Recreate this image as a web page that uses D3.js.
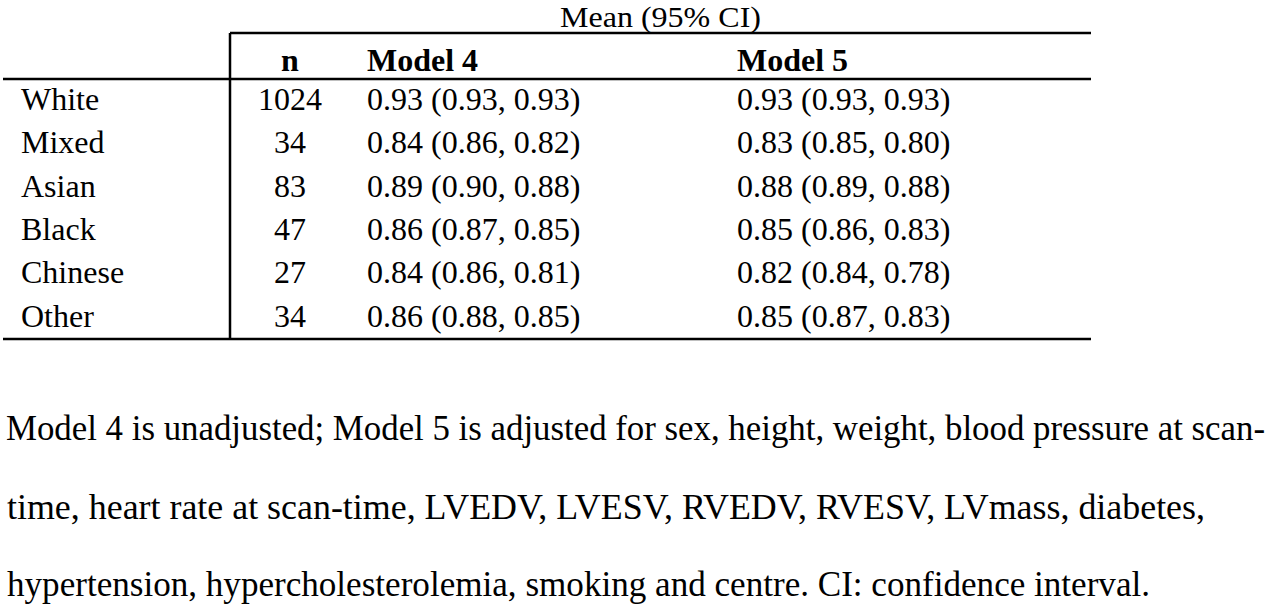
<!DOCTYPE html>
<html><head><meta charset="utf-8">
<script src="https://cdn.jsdelivr.net/npm/d3@7"></script>
<style>html,body{margin:0;padding:0;background:#fff;}svg{display:block;}</style>
</head><body>
<svg id="c" width="1280" height="611"></svg>
<script>
const groups = ["White","Mixed","Asian","Black","Chinese","Other"];
const nValues = [1024,34,83,47,27,34];
const model4 = ["0.93 (0.93, 0.93)","0.84 (0.86, 0.82)","0.89 (0.90, 0.88)","0.86 (0.87, 0.85)","0.84 (0.86, 0.81)","0.86 (0.88, 0.85)"];
const model5 = ["0.93 (0.93, 0.93)","0.83 (0.85, 0.80)","0.88 (0.89, 0.88)","0.85 (0.86, 0.83)","0.82 (0.84, 0.78)","0.85 (0.87, 0.83)"];
const headers = ["n","Model 4","Model 5"];
const spanner = "Mean (95% CI)";
const footnote = [
 "Model 4 is unadjusted; Model 5 is adjusted for sex, height, weight, blood pressure at scan-",
 "time, heart rate at scan-time, LVEDV, LVESV, RVEDV, RVESV, LVmass, diabetes,",
 "hypertension, hypercholesterolemia, smoking and centre. CI: confidence interval."
];

const svg = d3.select("#c");
const font = "'Liberation Serif','Times New Roman',serif";
const fs = 32;

const xLeft = 3, xV = 230, xRight = 1091;
const yTop = 33, yHead = 79, yBottom = 339;
const xN = 290, xM4 = 367, xM5 = 737;

// row bands between header rule and bottom rule
const y = d3.scaleBand().domain(groups).range([yHead, yBottom]);
const rowBase = g => y(g) + 31;

const lines = [
  [xV, yTop, xRight, yTop],
  [xLeft, yHead, xRight, yHead],
  [xLeft, yBottom, xRight, yBottom],
  [xV, yTop, xV, yBottom]
];
svg.selectAll("line.rule").data(lines).join("line").attr("class","rule")
  .attr("x1",d=>d[0]).attr("y1",d=>d[1]).attr("x2",d=>d[2]).attr("y2",d=>d[3])
  .attr("stroke","#000").attr("stroke-width",2.5);

svg.append("text").attr("x",560).attr("y",27)
  .attr("textLength",201).attr("lengthAdjust","spacingAndGlyphs")
  .style("font-family",font).style("font-size","30px").text(spanner);

const hx = [xN, xM4, xM5], ha = ["middle","start","start"];
svg.selectAll("text.hdr").data(headers).join("text").attr("class","hdr")
  .attr("x",(d,i)=>hx[i]).attr("y",71).attr("text-anchor",(d,i)=>ha[i])
  .style("font-family",font).style("font-size",fs+"px").style("font-weight","bold").text(d=>d);

const rows = svg.selectAll("g.row").data(groups).join("g").attr("class","row");
rows.append("text").attr("x",21).attr("y",d=>rowBase(d))
  .style("font-family",font).style("font-size",fs+"px").text(d=>d);
rows.append("text").attr("x",xN).attr("y",d=>rowBase(d)).attr("text-anchor","middle")
  .style("font-family",font).style("font-size",fs+"px").text((d,i)=>nValues[i]);
rows.append("text").attr("x",xM4).attr("y",d=>rowBase(d))
  .style("font-family",font).style("font-size",fs+"px").text((d,i)=>model4[i]);
rows.append("text").attr("x",xM5).attr("y",d=>rowBase(d))
  .style("font-family",font).style("font-size",fs+"px").text((d,i)=>model5[i]);

const fy = [440, 519, 596], fx = [6, 7, 7], fw = [1259, 1198, 1143];
svg.selectAll("text.fn").data(footnote).join("text").attr("class","fn")
  .attr("x",(d,i)=>fx[i]).attr("y",(d,i)=>fy[i])
  .attr("textLength",(d,i)=>fw[i]).attr("lengthAdjust","spacingAndGlyphs")
  .style("font-family",font).style("font-size","35px").text(d=>d);
</script>
</body></html>
